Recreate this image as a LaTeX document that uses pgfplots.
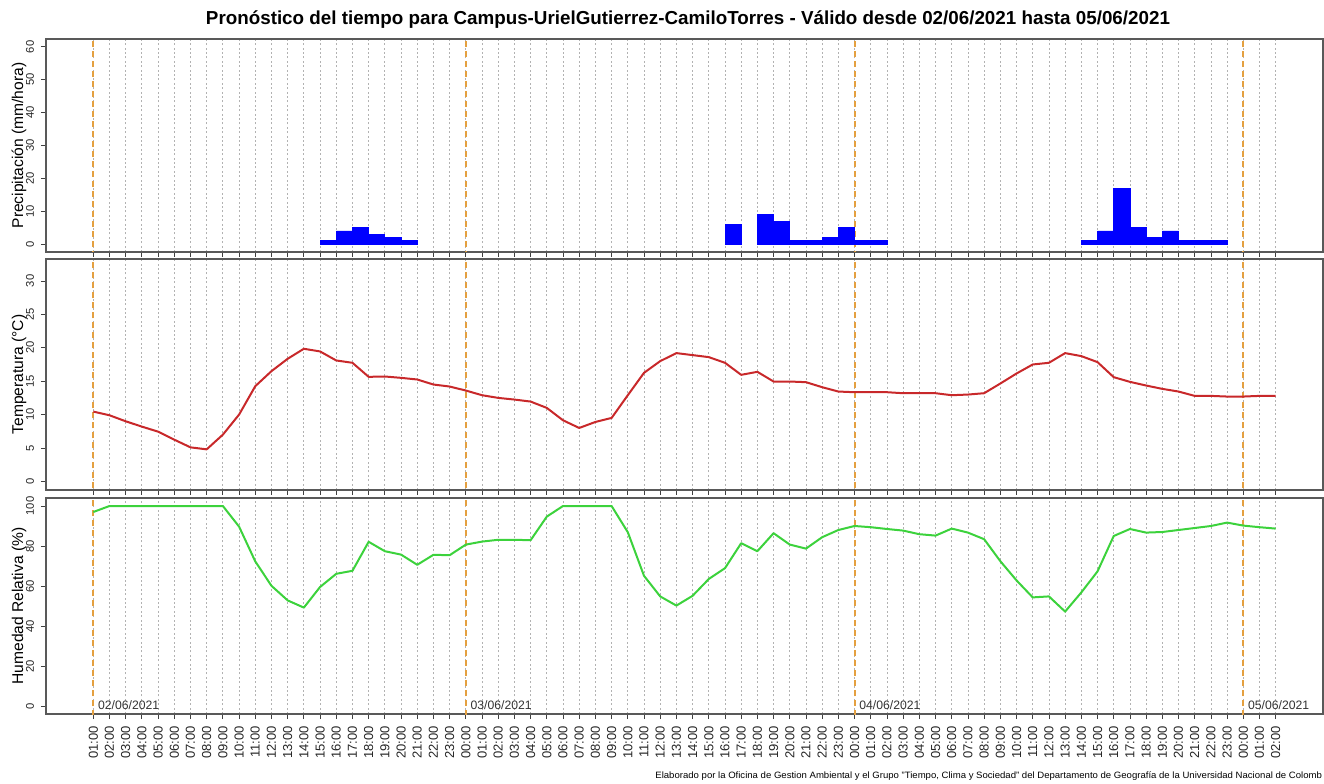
\documentclass[border=0pt]{standalone}
\usepackage{pgfplots}
\pgfplotsset{compat=1.18}
\usepackage{fontspec}
\setmainfont{Liberation Sans}
\definecolor{rainblue}{RGB}{0,0,255}
\definecolor{tempred}{RGB}{200,40,42}
\definecolor{humgreen}{RGB}{60,210,60}
\definecolor{dayorange}{RGB}{228,160,64}
\pgfplotstableread{
h t
0 10.45
1 9.9
2 9.0
3 8.2
4 7.45
5 6.25
6 5.1
7 4.8
8 7.0
9 10.0
10 14.25
11 16.5
12 18.35
13 19.85
14 19.45
15 18.1
16 17.75
17 15.65
18 15.7
19 15.5
20 15.25
21 14.5
22 14.2
23 13.6
24 12.9
25 12.5
26 12.25
27 11.95
28 11.0
29 9.15
30 8.0
31 8.9
32 9.5
33 12.9
34 16.25
35 18.0
36 19.2
37 18.9
38 18.6
39 17.75
40 15.95
41 16.4
42 14.95
43 14.95
44 14.85
45 14.1
46 13.45
47 13.35
48 13.35
49 13.35
50 13.2
51 13.2
52 13.2
53 12.9
54 13.0
55 13.2
56 14.65
57 16.15
58 17.5
59 17.75
60 19.2
61 18.75
62 17.85
63 15.6
64 14.9
65 14.35
66 13.85
67 13.45
68 12.8
69 12.8
70 12.7
71 12.7
72 12.8
73 12.8
}\temptable
\pgfplotstableread{
h r
0 97.0
1 100
2 100
3 100
4 100
5 100
6 100
7 100
8 100
9 89.7
10 72.3
11 60.1
12 52.8
13 49.2
14 59.5
15 66.1
16 67.6
17 82.1
18 77.4
19 75.7
20 70.6
21 75.6
22 75.4
23 80.7
24 82.2
25 83.1
26 83.1
27 82.9
28 94.7
29 100
30 100
31 100
32 100
33 86.9
34 65.1
35 54.8
36 50.2
37 55.1
38 63.5
39 68.9
40 81.4
41 77.4
42 86.4
43 80.7
44 78.7
45 84.4
46 88.0
47 90.0
48 89.4
49 88.5
50 87.7
51 85.9
52 85.2
53 88.7
54 86.7
55 83.4
56 72.4
57 62.8
58 54.3
59 54.8
60 47.2
61 56.8
62 67.3
63 85.0
64 88.5
65 86.7
66 87.0
67 88.0
68 89.0
69 90.0
70 91.7
71 90.2
72 89.4
73 88.7
}\humtable
\pgfplotsset{
  panel/.style={
    scale only axis,
    width=638.5pt,
    xmin=-2.92, xmax=75.92,
    xtick={0,...,73},
    xmajorgrids,
    major x grid style={black!30, dash pattern=on 1pt off 1.2pt, line width=0.4pt},
    tick align=outside,
    major tick length=2.5pt,
    axis line style={black!65, line width=0.6pt},
    every tick/.style={black!75, line width=0.4pt},
    xtick pos=bottom, ytick pos=left,
    /pgf/number format/assume math mode=true,
    yticklabel style={rotate=90, anchor=south, font=\fontsize{5.6}{6.5}\selectfont, text=black!85},
    ylabel style={at={(axis description cs:-0.0211,0.5)}, anchor=center, font=\fontsize{7.8}{9}\selectfont},
    clip=true,
  },
  dayline/.style={dayorange, line width=1pt, dash pattern=on 3pt off 2pt},
}
\begin{document}
\begin{tikzpicture}
\useasboundingbox (0,0) rectangle (662pt,391.5pt);
\node[font=\bfseries\fontsize{9.4}{11}\selectfont] at (344pt,381.5pt) {Pronóstico del tiempo para Campus-UrielGutierrez-CamiloTorres - Válido desde 02/06/2021 hasta 05/06/2021};
% Precipitation
\begin{axis}[panel, at={(23pt,265.5pt)}, anchor=south west, height=106.5pt,
  ymin=-2.4, ymax=62.4, ytick={0,10,...,60}, xticklabels={},
  ylabel={Precipitación (mm/hora)}]
\addplot[dayline] coordinates {(0,-10) (0,100)};
\addplot[dayline] coordinates {(23,-10) (23,100)};
\addplot[dayline] coordinates {(47,-10) (47,100)};
\addplot[dayline] coordinates {(71,-10) (71,100)};
\addplot[ybar interval, fill=rainblue, draw=rainblue, line width=0.4pt] coordinates {(14,1) (15,4) (16,5) (17,3) (18,2) (19,1) (20,1)};
\addplot[ybar interval, fill=rainblue, draw=rainblue, line width=0.4pt] coordinates {(39,6) (40,6)};
\addplot[ybar interval, fill=rainblue, draw=rainblue, line width=0.4pt] coordinates {(41,9) (42,7) (43,1) (44,1) (45,2) (46,5) (47,1) (48,1) (49,1)};
\addplot[ybar interval, fill=rainblue, draw=rainblue, line width=0.4pt] coordinates {(61,1) (62,4) (63,17) (64,5) (65,2) (66,4) (67,1) (68,1) (69,1) (70,1)};
\end{axis}
% Temperature
\begin{axis}[panel, at={(23pt,146.5pt)}, anchor=south west, height=115.5pt,
  ymin=-1.28, ymax=33.28, ytick={0,5,...,30}, xticklabels={},
  ylabel={Temperatura (°C)}]
\addplot[dayline] coordinates {(0,-10) (0,100)};
\addplot[dayline] coordinates {(23,-10) (23,100)};
\addplot[dayline] coordinates {(47,-10) (47,100)};
\addplot[dayline] coordinates {(71,-10) (71,100)};
\addplot[tempred, line width=1pt, line join=round] table[x=h, y=t] {\temptable};
\end{axis}
% Humidity
\begin{axis}[panel, at={(23pt,34.5pt)}, anchor=south west, height=108pt,
  ymin=-4, ymax=104, ytick={0,20,...,100},
  ylabel={Humedad Relativa (\%)},
  xticklabel style={rotate=90, anchor=east, font=\fontsize{6.5}{8}\selectfont, text=black!85},
  xticklabels={01:00,02:00,03:00,04:00,05:00,06:00,07:00,08:00,09:00,10:00,11:00,12:00,13:00,14:00,15:00,16:00,17:00,18:00,19:00,20:00,21:00,22:00,23:00,
  00:00,01:00,02:00,03:00,04:00,05:00,06:00,07:00,08:00,09:00,10:00,11:00,12:00,13:00,14:00,15:00,16:00,17:00,18:00,19:00,20:00,21:00,22:00,23:00,
  00:00,01:00,02:00,03:00,04:00,05:00,06:00,07:00,08:00,09:00,10:00,11:00,12:00,13:00,14:00,15:00,16:00,17:00,18:00,19:00,20:00,21:00,22:00,23:00,
  00:00,01:00,02:00}]
\addplot[dayline] coordinates {(0,-10) (0,200)};
\addplot[dayline] coordinates {(23,-10) (23,200)};
\addplot[dayline] coordinates {(47,-10) (47,200)};
\addplot[dayline] coordinates {(71,-10) (71,200)};
\addplot[humgreen, line width=1pt, line join=round] table[x=h, y=r] {\humtable};
\node[anchor=west, font=\fontsize{6.1}{7}\selectfont, text=black!80, inner sep=1pt] at (axis cs:0.15,0.2) {02/06/2021};
\node[anchor=west, font=\fontsize{6.1}{7}\selectfont, text=black!80, inner sep=1pt] at (axis cs:23.15,0.2) {03/06/2021};
\node[anchor=west, font=\fontsize{6.1}{7}\selectfont, text=black!80, inner sep=1pt] at (axis cs:47.15,0.2) {04/06/2021};
\node[anchor=west, font=\fontsize{6.1}{7}\selectfont, text=black!80, inner sep=1pt] at (axis cs:71.15,0.2) {05/06/2021};
\end{axis}
\node[anchor=west, font=\fontsize{4.6}{5.5}\selectfont, inner sep=0pt, xscale=1.04] at (327.5pt,3.5pt) {Elaborado por la Oficina de Gestion Ambiental y el Grupo "Tiempo, Clima y Sociedad" del Departamento de Geografía de la Universidad Nacional de Colomb};
\end{tikzpicture}
\end{document}
